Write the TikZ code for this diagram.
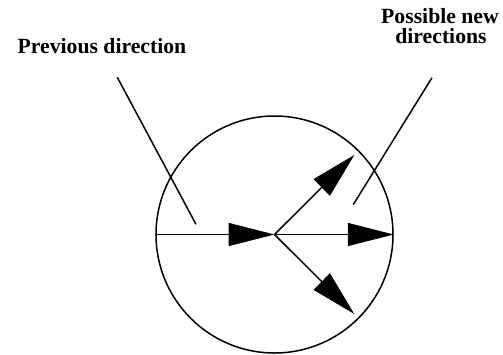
\documentclass[tikz,border=0pt]{standalone}
\usepackage{fontspec}
\setmainfont{Liberation Serif}
\usetikzlibrary{arrows.meta}
\begin{document}
\begin{tikzpicture}[x=1pt,y=-1pt,
  line/.style={line width=1.5pt,line cap=butt},
  dirarrow/.style={line width=1.5pt,-{Triangle[length=46pt,width=23pt]}},
  lbl/.style={font=\bfseries\fontsize{21.7}{21}\selectfont,inner sep=0pt,anchor=base}]
\useasboundingbox (0,0) rectangle (503,354);
\coordinate (c) at (274.5,234.5);
\node[line,draw,circle,minimum size=237pt,inner sep=0pt] (circ) at (c) {};
\coordinate (tipup) at (354.3,155);
\coordinate (tipdown) at (354.3,314);
\draw[dirarrow] (circ.west) -- (c);
\draw[dirarrow] (c) -- (circ.east);
\draw[dirarrow] (c) -- (tipup);
\draw[dirarrow] (c) -- (tipdown);
\node[lbl] (prev) at (102,53.5) {Previous direction};
\node[lbl] (new1) at (440,23) {Possible new};
\node[lbl] (new2) at (441,43.5) {directions};
\coordinate (prevend) at (196,224.3);
\coordinate (newend) at (353.3,204.5);
\draw[line] (117.3,77.3) coordinate (prevstart) -- (prevend);
\draw[line] (432,77.7) coordinate (newstart) -- (newend);
\end{tikzpicture}
\end{document}
